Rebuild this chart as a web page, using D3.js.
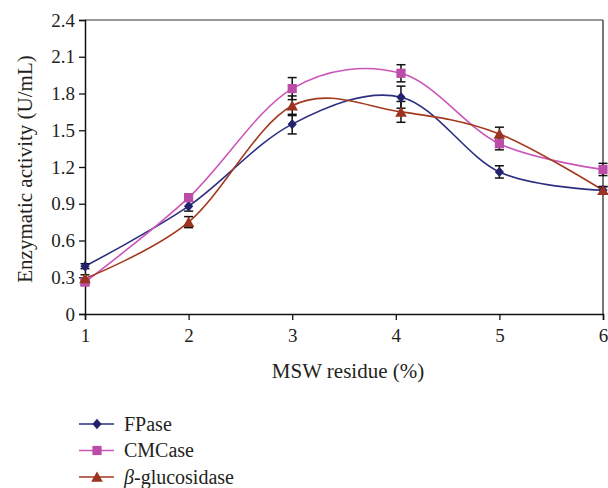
<!DOCTYPE html>
<html>
<head>
<meta charset="utf-8">
<script src="https://cdn.jsdelivr.net/npm/d3@7"></script>
<style>
  html, body { margin: 0; padding: 0; background: #fff; }
  svg { display: block; }
  text { font-family: "Liberation Serif", "DejaVu Serif", serif; fill: #231f20; }
</style>
</head>
<body>
<svg id="chart" width="608" height="488"></svg>
<script>
// ---- data ----
const xValues = [1, 2, 3, 4.05, 5, 6];
const fpase = [0.39, 0.88, 1.55, 1.77, 1.16, 1.01];
const cmcase = [0.26, 0.95, 1.84, 1.965, 1.39, 1.18];
const bgluc = [0.29, 0.75, 1.70, 1.65, 1.47, 1.01];
const fpaseErr = [0.02, 0.04, 0.08, 0.09, 0.05, 0.03];
const cmcaseErr = [0.02, 0.03, 0.09, 0.07, 0.05, 0.05];
const bglucErr = [0.03, 0.045, 0.08, 0.085, 0.055, 0.03];
const seriesNames = ["FPase", "CMCase", "\u03B2-glucosidase"];
const xTicks = [1, 2, 3, 4, 5, 6];
const yTicks = [0, 0.3, 0.6, 0.9, 1.2, 1.5, 1.8, 2.1, 2.4];
const xTitle = "MSW residue (%)";
const yTitle = "Enzymatic activity (U/mL)";

// ---- layout ----
const plot = { left: 85, right: 603, top: 20, bottom: 314 };
const svg = d3.select("#chart");
const x = d3.scaleLinear().domain([1, 6]).range([plot.left, plot.right]);
const y = d3.scaleLinear().domain([0, 2.4]).range([plot.bottom, plot.top]);

const diamond = { draw(ctx, size) { const w = 4.6, h = 5.2; ctx.moveTo(0, -h); ctx.lineTo(w, 0); ctx.lineTo(0, h); ctx.lineTo(-w, 0); ctx.closePath(); } };
const square = { draw(ctx, size) { const s = 4.6; ctx.rect(-s, -s, 2 * s, 2 * s); } };
const triangle = { draw(ctx, size) { const w = 5.8, h = 5.4; ctx.moveTo(0, -h); ctx.lineTo(w, h - 0.6); ctx.lineTo(-w, h - 0.6); ctx.closePath(); } };

const series = [
  { name: seriesNames[0], vals: fpase, err: fpaseErr, line: "#2b2f7f", fill: "#22226e", sym: diamond },
  { name: seriesNames[1], vals: cmcase, err: cmcaseErr, line: "#cc55b8", fill: "#bb4ca8", sym: square },
  { name: seriesNames[2], vals: bgluc, err: bglucErr, line: "#a3391f", fill: "#9a3320", sym: triangle }
];

// ---- frame (top & right) ----
svg.append("line").attr("x1", plot.left).attr("x2", plot.right).attr("y1", plot.top).attr("y2", plot.top)
  .attr("stroke", "#333").attr("stroke-width", 1.2);
svg.append("line").attr("x1", plot.right).attr("x2", plot.right).attr("y1", plot.top).attr("y2", plot.bottom)
  .attr("stroke", "#555").attr("stroke-width", 1.6);

// ---- axes ----
const yAxis = d3.axisLeft(y).tickValues(yTicks).tickSize(6).tickPadding(4)
  .tickFormat(d => d === 0 ? "0" : d3.format(".1f")(d));
const gy = svg.append("g").attr("transform", `translate(${plot.left},0)`).call(yAxis);
gy.select(".domain").attr("stroke", "#111").attr("stroke-width", 1.5);
gy.selectAll(".tick line").attr("stroke", "#111").attr("stroke-width", 1.3);
gy.selectAll(".tick text").attr("font-size", 19).attr("fill", "#231f20")
  .attr("font-family", "Liberation Serif, DejaVu Serif, serif");

const xAxis = d3.axisBottom(x).tickValues(xTicks).tickSize(6).tickPadding(9).tickFormat(d3.format("d"));
const gx = svg.append("g").attr("transform", `translate(0,${plot.bottom})`).call(xAxis);
gx.select(".domain").attr("stroke", "#111").attr("stroke-width", 1.5);
gx.selectAll(".tick line").attr("stroke", "#111").attr("stroke-width", 1.3);
gx.selectAll(".tick text").attr("font-size", 19).attr("fill", "#231f20")
  .attr("font-family", "Liberation Serif, DejaVu Serif, serif");

// ---- titles ----
svg.append("text").attr("x", 348).attr("y", 378).attr("text-anchor", "middle")
  .attr("font-size", 21).text(xTitle);
svg.append("text").attr("transform", "translate(32,169) rotate(-90)").attr("text-anchor", "middle")
  .attr("font-size", 21).text(yTitle);

// ---- lines ----
const line = d3.line().x((d, i) => x(xValues[i])).y(d => y(d)).curve(d3.curveCardinal.tension(0));
series.forEach(s => {
  svg.append("path").datum(s.vals).attr("d", line).attr("fill", "none")
    .attr("stroke", s.line).attr("stroke-width", 1.6);
});

// ---- error bars ----
series.forEach(s => {
  const g = svg.append("g").attr("stroke", "#111").attr("stroke-width", 1.5);
  s.vals.forEach((v, i) => {
    const cx = x(xValues[i]);
    const y1 = y(v + s.err[i]), y0 = y(v - s.err[i]);
    g.append("line").attr("x1", cx).attr("x2", cx).attr("y1", y1).attr("y2", y0);
    g.append("line").attr("x1", cx - 4.5).attr("x2", cx + 4.5).attr("y1", y1).attr("y2", y1);
    g.append("line").attr("x1", cx - 4.5).attr("x2", cx + 4.5).attr("y1", y0).attr("y2", y0);
  });
});

// ---- markers ----
series.forEach(s => {
  svg.append("g").selectAll("path").data(s.vals).join("path")
    .attr("d", d3.symbol().type(s.sym))
    .attr("transform", (d, i) => `translate(${x(xValues[i])},${y(d)})`)
    .attr("fill", s.fill);
});

// ---- legend ----
const leg = svg.append("g");
series.forEach((s, i) => {
  const ry = 424 + i * 26.5;
  leg.append("line").attr("x1", 79).attr("x2", 114).attr("y1", ry).attr("y2", ry)
    .attr("stroke", s.line).attr("stroke-width", 1.6);
  leg.append("path").attr("d", d3.symbol().type(s.sym)).attr("transform", `translate(97,${ry})`).attr("fill", s.fill);
  const t = leg.append("text").attr("x", 124).attr("y", ry + 6.5).attr("font-size", 20);
  if (i === 2) {
    t.append("tspan").attr("font-style", "italic").text("\u03B2");
    t.append("tspan").text(s.name.slice(1));
  } else {
    t.text(s.name);
  }
});
</script>
</body>
</html>
